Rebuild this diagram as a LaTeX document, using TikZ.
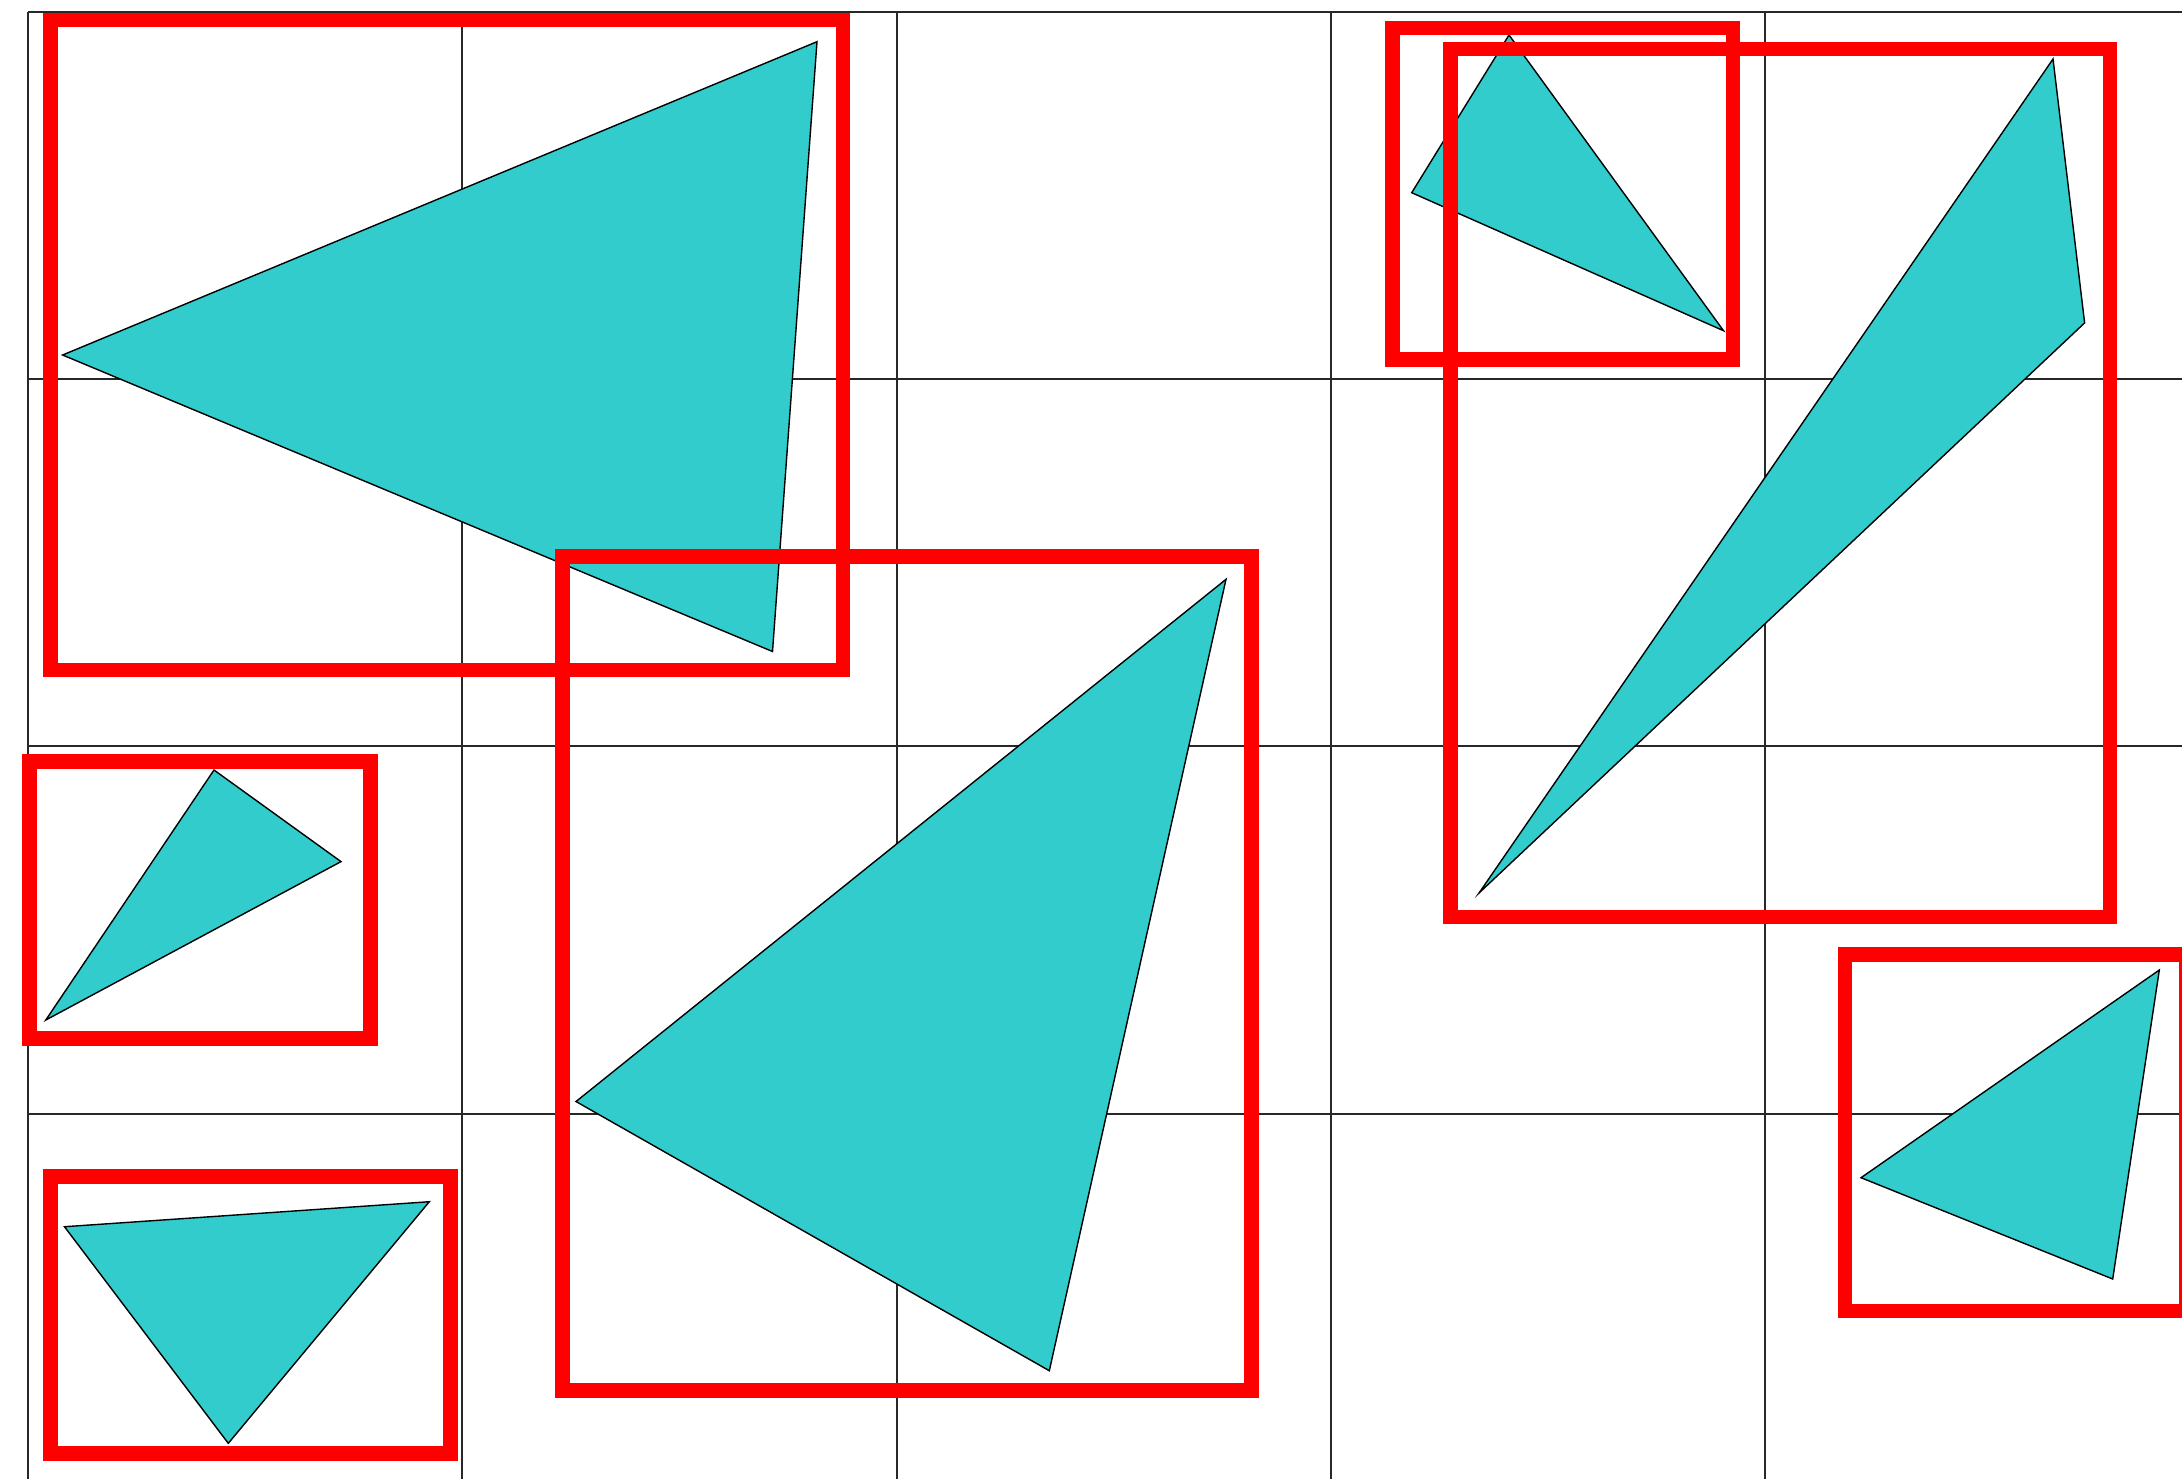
\documentclass[tikz,border=0pt]{standalone}
\definecolor{tricyan}{RGB}{51,204,204}
\definecolor{boxred}{RGB}{255,0,0}
\definecolor{gridgray}{RGB}{40,40,40}
\tikzset{
  gridline/.style={draw=gridgray, line width=0.02cm},
  tri/.style={fill=tricyan, draw=black, line width=0.014cm, line join=miter},
  bbox/.style={draw=boxred, line width=0.148cm, line join=miter}
}
\begin{document}
\begin{tikzpicture}[x=0.01cm, y=-0.01cm]
\useasboundingbox (0,0) rectangle (2182,1478);
\fill[white] (0,0) rectangle (2182,1478);
\clip (0,0) rectangle (2182,1478);
% grid
\foreach \gx in {28,462.25,896.5,1330.75,1765} {
  \draw[gridline] (\gx,12) -- (\gx,1490);
}
\foreach \gy in {12,379.2,746.4,1113.6} {
  \draw[gridline] (28,\gy) -- (2200,\gy);
}
% triangles
\draw[tri] (62.6,355) -- (817,41.7) -- (772.5,651.5) -- cycle;
\draw[tri] (1509,35) -- (1411.7,192.7) -- (1723.5,330.7) -- cycle;
\draw[tri] (2053,59) -- (2084.6,322.9) -- (1479,893) -- cycle;
\draw[tri] (214,770) -- (341,861.6) -- (45.8,1020) -- cycle;
\draw[tri] (64.5,1226.7) -- (429.3,1201.7) -- (228.3,1443.3) -- cycle;
\draw[tri] (1226,579.3) -- (576,1101.5) -- (1049.3,1370.7) -- cycle;
\draw[tri] (2159.3,970) -- (1861,1177.7) -- (2112.7,1279) -- cycle;
% bounding boxes
\draw[bbox] (50.5,20) rectangle (843,670);
\draw[bbox] (1392.5,28) rectangle (1733,359.5);
\draw[bbox] (1450.7,49) rectangle (2110,917);
\draw[bbox] (29.5,761.5) rectangle (370.5,1038.5);
\draw[bbox] (50.5,1176.5) rectangle (450.3,1453.3);
\draw[bbox] (562.3,556.5) rectangle (1251.3,1390.8);
\draw[bbox] (1845,954.5) rectangle (2186,1311);
\end{tikzpicture}
\end{document}
